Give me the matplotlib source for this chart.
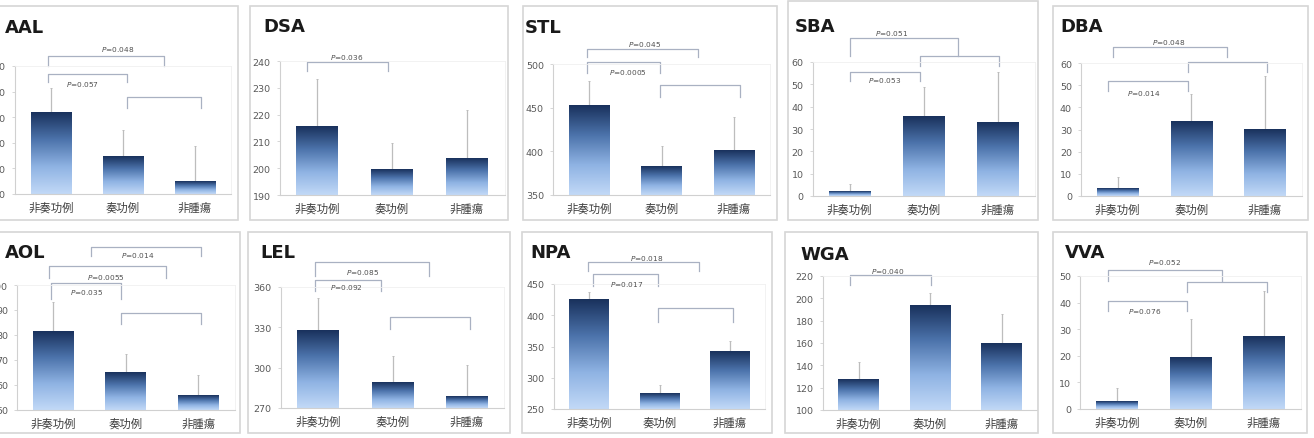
import numpy as np
import matplotlib.pyplot as plt
from matplotlib.colors import LinearSegmentedColormap
from matplotlib.patches import Rectangle

W, H = 1314, 439

titles = ['AAL', 'DSA', 'STL', 'SBA', 'DBA', 'AOL', 'LEL', 'NPA', 'WGA', 'VVA']
groups = ['非奏功例', '奏功例', '非腫瘍']

means = [
    [132, 114.8, 105],      # AAL
    [215.5, 199.5, 203.5],  # DSA
    [453, 383, 401.5],      # STL
    [1.8, 35.4, 32.7],      # SBA
    [3.6, 33.8, 30.2],      # DBA
    [81.6, 65.2, 56],       # AOL
    [327.3, 289.3, 278.9],  # LEL
    [426, 275.6, 342.8],    # NPA
    [126.9, 194, 160],      # WGA
    [3.0, 19.5, 27.4],      # VVA
]
sds = [
    [9.4, 10.2, 13.8],
    [17.8, 9.9, 18.3],
    [27.5, 22.8, 37.8],
    [3.6, 13.4, 22.8],
    [5.0, 12.2, 23.9],
    [11.6, 7.2, 8.0],
    [24.5, 19.4, 23.1],
    [11, 12.8, 16],
    [16.1, 10.8, 26],
    [4.9, 14.3, 17],
]
# y axis: start, stop, step
yticks = [(100, 150, 10), (190, 240, 10), (350, 500, 50), (0, 60, 10), (0, 60, 10),
          (50, 100, 10), (270, 360, 30), (250, 450, 50), (100, 220, 20), (0, 50, 10)]

p_labels = [
    ['P=0.048', 'P=0.057', ''],
    ['P=0.036'],
    ['P=0.045', 'P=0.0005', ''],
    ['P=0.051', 'P=0.053', ''],
    ['P=0.048', 'P=0.014', ''],
    ['P=0.014', 'P=0.0055', 'P=0.035', ''],
    ['P=0.085', 'P=0.092', ''],
    ['P=0.018', 'P=0.017', ''],
    ['P=0.040'],
    ['P=0.052', 'P=0.076', ''],
]

# bracket layout: x1, x2, y top, y leg end, text x, text y
brackets = [
    [(-0.04, 1.57, 153.9, 150, 0.92, 157), (-0.04, 1.06, 146.9, 143.75, 0.44, 143.3), (1.06, 2.08, 137.9, 133.6, 0, 0)],
    [(-0.13, 0.95, 239.6, 236.3, 0.4, 241.5)],
    [(-0.03, 1.50, 517, 508, 0.77, 523), (-0.03, 0.98, 502, 490, 0.54, 491), (0.98, 2.08, 476, 462, 0, 0)],
    [(0.0, 1.46, 70.8, 62.7, 0.57, 73.4), (0.0, 0.95, 55.5, 51.5, 0.48, 52), (0.95, 2.02, 62.7, 58.2, 0, 0)],
    [(-0.06, 1.48, 67.2, 62.7, 0.69, 69.9), (-0.13, 0.95, 51.9, 47.4, 0.35, 46.9), (0.95, 2.03, 60.4, 55.9, 0, 0)],
    [(0.52, 2.04, 115.2, 111.6, 1.17, 112.4), (-0.06, 1.55, 107.6, 102.8, 0.72, 103.6),
     (-0.03, 0.94, 100.8, 94.4, 0.455, 97.2), (0.94, 2.04, 88.8, 84.4, 0, 0)],
    [(-0.04, 1.49, 378.6, 368.2, 0.6, 371.9), (-0.04, 0.85, 365.2, 357, 0.38, 360), (0.97, 2.04, 337.7, 328.8, 0, 0)],
    [(-0.01, 1.56, 485.2, 470.8, 0.82, 491.6), (0.06, 0.98, 466, 446.8, 0.54, 450), (0.98, 2.04, 411.6, 389.2, 0, 0)],
    [(-0.12, 1.01, 220.9, 211.9, 0.41, 224.5)],
    [(-0.12, 1.43, 52.3, 48.1, 0.65, 55.3), (-0.12, 0.95, 40.6, 36.8, 0.38, 37.2), (0.95, 2.04, 47.7, 44, 0, 0)],
]

# pixel layout: axes (left, right, top, bottom), panel boxes, titles
ax_px = [(15, 231, 67, 195), (279.5, 504.5, 62, 196), (553, 770, 65, 196), (812.5, 1034.5, 63, 197),
         (1081, 1301.5, 64, 197), (17, 234.5, 286, 411), (280.75, 504.25, 288, 409), (553.75, 765.25, 285, 410),
         (822.75, 1037.25, 277, 411), (1080.25, 1300.75, 277, 410)]
boxes = [(-5, 238, 7, 221), (250, 508, 7, 221), (523, 777, 7, 221), (788, 1038, 2, 221), (1053, 1308, 7, 221),
         (-5, 240, 233, 434), (248, 510, 233, 434), (522, 772, 233, 434), (785, 1038, 233, 434), (1053, 1307, 233, 434)]
title_px = [(5, 28), (263, 27), (525, 28), (795, 27), (1060, 27),
            (5, 253), (260, 253), (530, 253), (800, 255), (1065, 253)]

cmap = LinearSegmentedColormap.from_list('bar', ['#c2d9f7', '#8fb3e3', '#4c73ab', '#19315c'])
grad = np.linspace(0, 1, 256).reshape(-1, 1)
cjk = ['Noto Sans CJK JP', 'DejaVu Sans']

fig = plt.figure(figsize=(W / 100, H / 100), dpi=100)

for i in range(10):
    x0, x1, y0, y1 = boxes[i]
    fig.add_artist(Rectangle((x0 / W, 1 - y1 / H), (x1 - x0) / W, (y1 - y0) / H,
                             transform=fig.transFigure, fill=False, ec='#d6d6d6', lw=1.2))

    l, r, t, b = ax_px[i]
    ax = fig.add_axes([l / W, 1 - b / H, (r - l) / W, (b - t) / H])
    lo, hi, step = yticks[i]
    x = np.arange(3)
    m = np.array(means[i])
    bars = ax.bar(x, m - lo, bottom=lo, width=0.56, color='none', zorder=2)
    for bar in bars:
        bx, by = bar.get_x(), bar.get_y()
        ax.imshow(grad, extent=(bx, bx + bar.get_width(), by, by + bar.get_height()),
                  origin='lower', aspect='auto', cmap=cmap, zorder=2)
    ax.errorbar(x, m, yerr=[np.zeros(3), sds[i]], fmt='none', ecolor='#bdbdbd',
                elinewidth=0.9, capsize=1.0, capthick=0.7, zorder=1)

    for (bx1, bx2, ytop, yleg, tx, ty), lab in zip(brackets[i], p_labels[i]):
        ax.plot([bx1, bx1, bx2, bx2], [yleg, ytop, ytop, yleg], color='#a9b1c2', lw=0.9, clip_on=False)
        if lab:
            ax.text(tx, ty, '$P$' + lab[1:], ha='center', va='center', fontsize=5.3, color='#505050')

    ax.set_xlim(-0.5, 2.5)
    ax.set_ylim(lo, hi)
    ax.set_yticks(np.arange(lo, hi + step / 2, step))
    ax.set_xticks(x)
    ax.set_xticklabels(groups, family=cjk, fontsize=8.2, color='#404040')
    ax.tick_params(axis='x', length=0, pad=5.5)
    ax.tick_params(axis='y', length=2.5, width=0.6, color='#d0d0d0', labelsize=6.8,
                   labelcolor='#595959', pad=4)
    for s in ['left', 'bottom']:
        ax.spines[s].set_color('#d0d0d0')
        ax.spines[s].set_linewidth(0.8)
    for s in ['top', 'right']:
        ax.spines[s].set_color('#f0f0f0')
        ax.spines[s].set_linewidth(0.6)

    tx, ty = title_px[i]
    fig.text(tx / W, 1 - ty / H, titles[i], ha='left', va='center', fontsize=13,
             fontweight='bold', color='#1a1a1a')

fig.savefig('out.png', dpi=100)
